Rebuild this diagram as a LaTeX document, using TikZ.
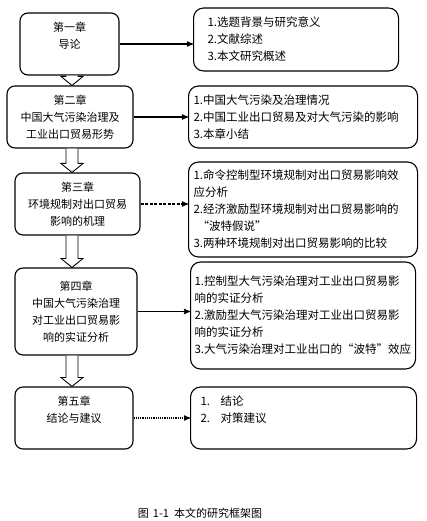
\documentclass[tikz,border=0pt]{standalone}
\usepackage{fontspec}
\setmainfont{Noto Sans CJK SC}
\usepackage{tikz}
\usetikzlibrary{arrows, calc, positioning}
\tikzset{chapter box/.style={draw, rounded corners=8pt, line width=1.1pt, align=center}}
\tikzset{section box/.style={draw, rounded corners=10pt, line width=1.1pt, align=left, anchor=west, font=\fontsize{11.5}{17}\selectfont}}
\newcommand{\hollowArrow}[2]{\draw[line width=0.9pt, fill=white] let \p1=(#1.south), \p2=(#2.north), \p3=(spine) in (\x3-6pt,\y1) -- (\x3-6pt,\y2+9pt) -- (\x3-11pt,\y2+9pt) -- (\x3,\y2) -- (\x3+11pt,\y2+9pt) -- (\x3+6pt,\y2+9pt) -- (\x3+6pt,\y1);}

\begin{document}
\begin{tikzpicture}[>=stealth', x=1pt, y=-1pt, font=\fontsize{11}{17}\selectfont]
\useasboundingbox (0,0) rectangle (426,521);
\coordinate (spine) at (72,0);
\node[chapter box, minimum width=99pt, minimum height=62pt] (c1) at (69.5,44) {第一章\\导论\\~};
\node[chapter box, minimum width=126pt, minimum height=62pt] (c2) at (70,117) {第二章\\中国大气污染治理及\\工业出口贸易形势};
\node[chapter box, minimum width=125pt, minimum height=62pt] (c3) at (77.5,204) {第三章\\环境规制对出口贸易\\影响的机理};
\node[chapter box, minimum width=122pt, minimum height=87pt] (c4) at (76,311.5) {第四章\\中国大气污染治理\\对工业出口贸易影\\响的实证分析};
\node[chapter box, minimum width=118pt, minimum height=62pt] (c5) at (74,418) {第五章\\结论与建议\\~};
\node[section box, text width=177pt, inner xsep=14pt, minimum height=63pt] (s1) at (193,39.5) {1.选题背景与研究意义\\2.文献综述\\3.本文研究概述};
\node[section box, text width=219pt, inner xsep=5pt, minimum height=62pt] (s2) at (188,117) {1.中国大气污染及治理情况\\2.中国工业出口贸易及对大气污染的影响\\3.本章小结};
\node[section box, text width=219pt, inner xsep=5pt, minimum height=95pt] (s3) at (188,209.5) {1.命令控制型环境规制对出口贸易影响效\\应分析\\2.经济激励型环境规制对出口贸易影响的\\\hspace{4pt}“波特假说”\\3.两种环境规制对出口贸易影响的比较};
\node[section box, text width=217pt, inner xsep=4pt, minimum height=107pt] (s4) at (190,315.5) {1.控制型大气污染治理对工业出口贸易影\\响的实证分析\\2.激励型大气污染治理对工业出口贸易影\\响的实证分析\\3.大气污染治理对工业出口的“波特”效应};
\node[section box, text width=206pt, inner xsep=10pt, minimum height=62pt] (s5) at (190,418) {\makebox[20pt][l]{1.}结论\\\makebox[20pt][l]{2.}对策建议\\~};
\node (cap) at (200,513) {图\hspace{4pt}1-1\hspace{5pt}本文的研究框架图};
\draw [->, line width=1.2pt] (c1.east) -- (c1.east -| s1.west);
\draw [->, line width=1.2pt] (c2.east) -- (c2.east -| s2.west);
\draw [->, line width=1.2pt, dash pattern=on 3pt off 1.5pt] (c3.east) -- (c3.east -| s3.west);
\draw [->, line width=1.2pt] (c4.east) -- (c4.east -| s4.west);
\draw [->, line width=1.2pt, densely dotted] (c5.east) -- (c5.east -| s5.west);
\hollowArrow{c1}{c2}
\hollowArrow{c2}{c3}
\hollowArrow{c3}{c4}
\hollowArrow{c4}{c5}
\end{tikzpicture}
\end{document}
